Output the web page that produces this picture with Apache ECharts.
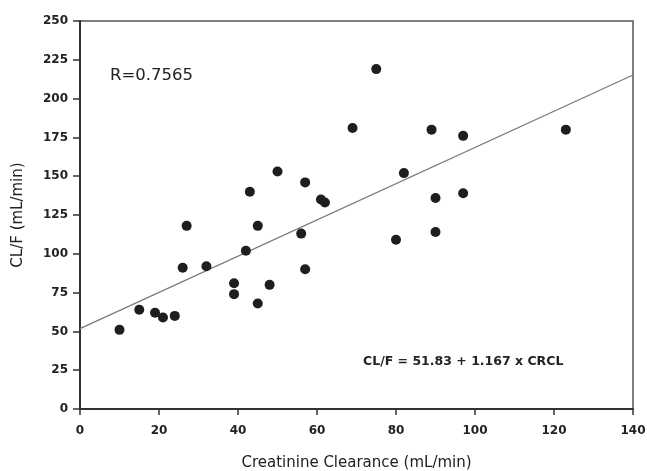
<!DOCTYPE html>
<html>
<head>
<meta charset="utf-8">
<script src="https://cdn.jsdelivr.net/npm/echarts@6/dist/echarts.min.js"></script>
<style>
  html, body { margin: 0; padding: 0; background: #fff; }
  #chart { width: 647px; height: 471px; }
</style>
</head>
<body>
<div id="chart"></div>
<script>
  // creatinine clearance (mL/min) and CL/F (mL/min)
  var crcl = [10, 15, 19, 21, 24, 26, 27, 32, 39, 39, 42, 43, 45, 45, 48, 50,
              56, 57, 57, 61, 62, 69, 75, 80, 82, 89, 90, 90, 97, 97, 123];
  var clf  = [51, 64, 62, 59, 60, 91, 118, 92, 81, 74, 102, 140, 118, 68, 80, 153,
              113, 146, 90, 135, 133, 181, 219, 109, 152, 180, 136, 114, 176, 139, 180];

  // fitted line CL/F = 51.83 + 1.167 x CRCL
  var intercept = 51.83;
  var slope = 1.167;
  var fitRange = [0, 140];

  var xTicks = [0, 20, 40, 60, 80, 100, 120, 140];
  var yTicks = [0, 25, 50, 75, 100, 125, 150, 175, 200, 225, 250];

  var points = crcl.map(function (x, i) { return [x, clf[i]]; });
  var fitLine = fitRange.map(function (x) { return [x, intercept + slope * x]; });

  var font = 'DejaVu Sans';
  var chart = echarts.init(document.getElementById('chart'));
  chart.setOption({
    animation: false,
    backgroundColor: '#fff',
    grid: {
      left: 80, right: 14, top: 21, bottom: 62,
      outerBoundsMode: 'none',
      show: true, borderColor: '#555', borderWidth: 1.5, backgroundColor: '#fff'
    },
    xAxis: {
      type: 'value',
      min: xTicks[0], max: xTicks[xTicks.length - 1], interval: 20,
      name: 'Creatinine Clearance (mL/min)',
      nameLocation: 'middle', nameGap: 47,
      nameTextStyle: { fontFamily: font, fontSize: 15, color: '#222' },
      axisLine: { lineStyle: { color: '#333', width: 2 } },
      axisTick: { length: 6, lineStyle: { color: '#333', width: 1.5 } },
      axisLabel: { fontFamily: font, fontSize: 12, fontWeight: 'bold', color: '#222', margin: 16 },
      splitLine: { show: false }
    },
    yAxis: {
      type: 'value',
      min: yTicks[0], max: yTicks[yTicks.length - 1], interval: 25,
      name: 'CL/F (mL/min)',
      nameLocation: 'middle', nameGap: 54,
      nameTextStyle: { fontFamily: font, fontSize: 15, color: '#222' },
      axisLine: { lineStyle: { color: '#333', width: 2 } },
      axisTick: { length: 7, lineStyle: { color: '#333', width: 1.5 } },
      axisLabel: { fontFamily: font, fontSize: 12, fontWeight: 'bold', color: '#222', margin: 12 },
      splitLine: { show: false }
    },
    series: [
      {
        type: 'line',
        data: fitLine,
        symbol: 'none',
        lineStyle: { color: '#7a7a7a', width: 1.3 },
        z: 1
      },
      {
        type: 'scatter',
        data: points,
        symbolSize: 10,
        itemStyle: { color: '#1e1e1e', opacity: 1 },
        z: 2
      }
    ],
    graphic: [
      {
        type: 'text', left: 110, top: 67,
        style: { text: 'R=0.7565', fontFamily: font, fontSize: 16.5, fill: '#222' }
      },
      {
        type: 'text', left: 363, top: 355,
        style: { text: 'CL/F = 51.83 + 1.167 x CRCL', fontFamily: font, fontSize: 12.5, fontWeight: 'bold', fill: '#222' }
      }
    ]
  });
</script>
</body>
</html>
